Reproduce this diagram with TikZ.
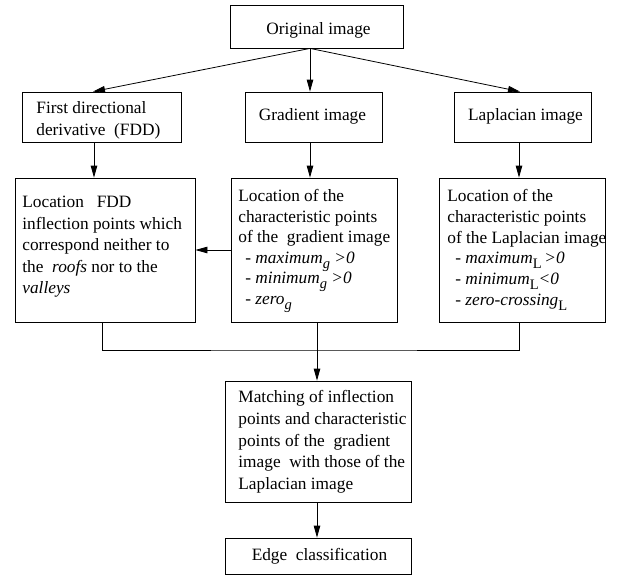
\documentclass[tikz,border=0pt]{standalone}
\usepackage{fontspec}
\setmainfont{Liberation Serif}
\usetikzlibrary{arrows.meta}

\newcommand{\lowsub}[1]{\smash{\raisebox{-5pt}{\fontsize{14.5}{14.5}\selectfont #1}}}

\begin{document}
\begin{tikzpicture}[x=1pt, y=-1pt, line width=0.8pt,
	box/.style={draw, rectangle, inner sep=0pt},
	txt/.style={inner sep=0pt, align=left, anchor=north west, font=\fontsize{17.3}{21.5}\selectfont},
	arr/.style={-{Triangle[length=12pt, width=6.5pt]}}]
		\useasboundingbox (0,0) rectangle (630,576);

		% top row
		\node (orig) [box, minimum width=173pt, minimum height=43pt] at (316.5,26.5) {};
		\node (origtxt) [txt, anchor=base] at (318.5,34.3) {Original image};

		\node (fdd) [box, minimum width=159pt, minimum height=50pt] at (101.5,117) {};
		\node (fddtxt) [txt, font=\fontsize{17.3}{22}\selectfont] at (36,101.5) {First directional\\derivative~ (FDD)};
		\node (grad) [box, minimum width=137pt, minimum height=50pt] at (313.5,117) {};
		\node (gradtxt) [txt, anchor=base] at (312.5,120.7) {Gradient image};
		\node (lap) [box, minimum width=137pt, minimum height=50pt] at (522.5,117) {};
		\node (laptxt) [txt, anchor=base] at (525.5,120.7) {Laplacian image};

		% location boxes
		\node (infl) [box, minimum width=180pt, minimum height=144pt] at (105,250) {};
		\node (infltxt) [txt] at (22,196) {Location~~ FDD\\inflection points which\\correspond neither to\\the~ \textit{roofs} nor to the\\\textit{valleys}};
		\node (charg) [box, minimum width=166pt, minimum height=144pt] at (314,250) {};
		\node (chargtxt) [txt, font=\fontsize{17.3}{20.5}\selectfont] at (238,189) {Location of the\\characteristic points\\of the~ gradient image\\\hspace*{7pt}- \textit{maximum}\lowsub{\textit{g}} \textit{>0}\\\hspace*{7pt}- \textit{minimum}\lowsub{\textit{g}} \textit{>0}\\\hspace*{7pt}- \textit{zero}\lowsub{\textit{g}}};
		\node (charl) [box, minimum width=166pt, minimum height=144pt] at (522,250) {};
		\node (charltxt) [txt, font=\fontsize{17.3}{20.8}\selectfont] at (447,189) {Location of the\\characteristic points\\of the Laplacian image\\\hspace*{8pt}- \textit{maximum}\lowsub{L}\,\textit{>0}\\\hspace*{8pt}- \textit{minimum}\lowsub{L}\textit{<0}\\\hspace*{8pt}- \textit{zero-crossing}\lowsub{L}};

		% bottom
		\node (match) [box, minimum width=186pt, minimum height=121pt] at (318,441.5) {};
		\node (matchtxt) [txt, font=\fontsize{17.3}{21.8}\selectfont] at (238,390) {Matching of inflection\\points and characteristic\\points of the~ gradient\\image~ with those of the\\Laplacian image};
		\node (edge) [box, minimum width=186pt, minimum height=36pt] at (318,556) {};
		\node (edgetxt) [txt, anchor=base] at (319.5,560) {Edge~ classification};

		\coordinate (join) at (317,350);

		\draw[arr] ([xshift=-6.5]orig.south) -- ([xshift=-8.5]fdd.north);
		\draw[arr] ([xshift=-6.5]orig.south) -- ([xshift=-3.5]grad.north);
		\draw[arr] ([xshift=-6.5]orig.south) -- ([xshift=-2.5]lap.north);

		\draw[arr] ([xshift=-7.5]fdd.south) -- ([xshift=-11]infl.north);
		\draw[arr] ([xshift=-3.5]grad.south) -- ([xshift=-4]charg.north);
		\draw[arr] ([xshift=-3.5]lap.south) -- ([xshift=-3]charl.north);
		\draw[arr] (charg.west) -- (infl.east);

		\draw ([xshift=-3]infl.south) |- (join) -| ([xshift=-3]charl.south);
		\draw[arr] ([xshift=3]charg.south) -- ([xshift=-1]match.north);
		\draw[arr] ([xshift=-1]match.south) -- ([xshift=-1]edge.north);

	\end{tikzpicture}
\end{document}
